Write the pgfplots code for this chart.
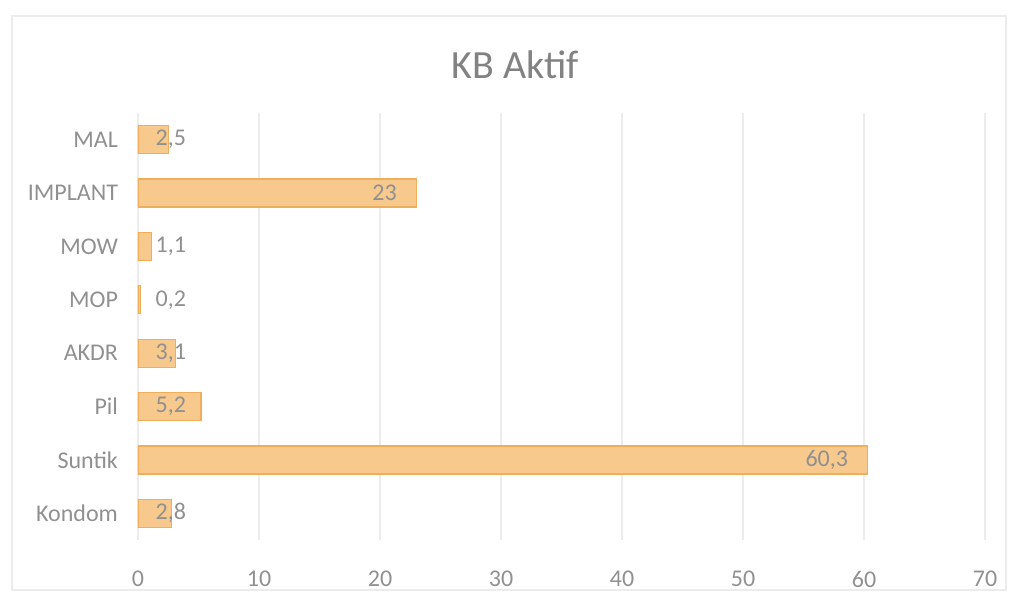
\documentclass[border=0pt]{standalone}
\usepackage{pgfplots}
\pgfplotsset{compat=1.18}
\usepackage{fontspec}
\setmainfont{Carlito}
\definecolor{barfill}{HTML}{F8C98D}
\definecolor{bardraw}{HTML}{EFAE5C}
\definecolor{txtgray}{HTML}{909090}
\definecolor{gridgray}{HTML}{ECECEC}
\begin{document}
\begin{tikzpicture}
\path[use as bounding box] (-69pt,-31.5pt) rectangle (439pt,270pt);
\path[draw=gridgray, line width=0.6pt] (-63pt,-25pt) rectangle (434pt,262pt);
\begin{axis}[
  at={(0pt,0pt)}, anchor=south west,
  scale only axis, width=423.5pt, height=213.5pt,
  xbar, bar width=14pt, bar shift=0pt,
  xmin=0, xmax=70, ymin=-0.5, ymax=7.5,
  xtick={0,10,...,70}, ytick={0,...,7},
  yticklabels={Kondom,Suntik,Pil,AKDR,MOP,MOW,IMPLANT,MAL},
  xmajorgrids, grid style={gridgray, line width=0.6pt},
  axis line style={draw=none}, major tick length=0pt,
  tick label style={txtgray},
  xticklabel style={font=\fontsize{12}{14}\selectfont, yshift=-12pt},
  yticklabel style={font=\fontsize{12}{14}\selectfont, xshift=-6.5pt},
  /pgf/number format/assume math mode=true,
  /pgf/number format/use comma,
  nodes near coords,
  nodes near coords style={txtgray, font=\fontsize{12}{14}\selectfont, inner sep=0pt,
     /pgf/number format/assume math mode=true, /pgf/number format/use comma},
]
\addplot[fill=barfill, draw=bardraw, line width=0.6pt,
  visualization depends on={rawx \as \rawx},
  every node near coord/.append style={anchor=west, xshift={(8.5-6.05*\rawx)*1pt}}]
  coordinates {(2.8,0) (5.2,2) (3.1,3) (0.2,4) (1.1,5) (2.5,7)};
\addplot[fill=barfill, draw=bardraw, line width=0.6pt,
  every node near coord/.append style={anchor=east, xshift=-9.5pt}]
  coordinates {(60.3,1) (23,6)};
\end{axis}
\node[txtgray!90!black, font=\fontsize{20}{24}\selectfont] at (188.5pt,237.5pt) {KB Aktif};
\end{tikzpicture}
\end{document}
